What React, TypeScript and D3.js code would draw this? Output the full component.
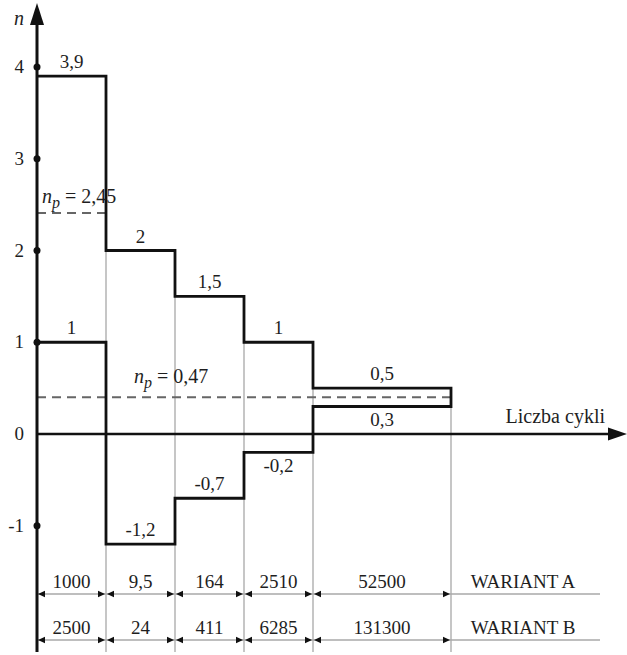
import React from "react";
import * as d3 from "d3";

const segUnits = [1, 1, 1, 1, 2];
const upperSeries = [3.9, 2, 1.5, 1, 0.5];
const upperLabels = ["3,9", "2", "1,5", "1", "0,5"];
const lowerSeries = [1, -1.2, -0.7, -0.2, 0.3];
const lowerLabels = ["1", "-1,2", "-0,7", "-0,2", "0,3"];
const lowerLabelSide = ["above", "above", "above", "below", "below"];
const variantA = ["1000", "9,5", "164", "2510", "52500"];
const variantB = ["2500", "24", "411", "6285", "131300"];
const variantNames = ["WARIANT A", "WARIANT B"];
const yTicks = [-1, 0, 1, 2, 3, 4];
const npLabels = ["2,45", "0,47"];
const npLinePos = [2.41, 0.4];
const npLineEndSeg = [1, 5];

const W = 627;
const H = 655;
const FONT = "Liberation Serif, DejaVu Serif, serif";
const FS = 19;

export default function App() {
  const total = d3.sum(segUnits);
  const x = d3.scaleLinear().domain([0, total]).range([37, 451]);
  const y = d3.scaleLinear().domain([0, 4]).range([434, 67]);
  const cum = [0, ...d3.cumsum(segUnits)];
  const xb = cum.map((c) => x(c));

  const pts: [number, number][] = [];
  upperSeries.forEach((v, i) => {
    pts.push([xb[i], y(v)]);
    pts.push([xb[i + 1], y(v)]);
  });
  for (let i = lowerSeries.length - 1; i >= 0; i--) {
    pts.push([xb[i + 1], y(lowerSeries[i])]);
    pts.push([xb[i], y(lowerSeries[i])]);
  }
  const line = d3.line();
  const stepPath = line(pts) as string;

  const axisBottom = 652;
  const dimRows = [variantA, variantB];
  const dimY = [594, 640];
  const grey = "#a8a8a8";
  const txt = "#1e1e1e";

  const arrow = (tipX: number, yy: number, dir: number, key: string) => (
    <path
      key={key}
      d={`M${tipX},${yy} L${tipX - dir * 7},${yy - 3.2} L${tipX - dir * 7},${yy + 3.2} Z`}
      fill="#111"
    />
  );

  return (
    <svg
      width={W}
      height={H}
      style={{ position: "absolute", left: 0, top: 0, background: "#fff", fontFamily: FONT }}
    >
      <rect width={W} height={H} fill="#fff" />
      {xb.slice(1).map((bx, i) => (
        <line
          key={"gv" + i}
          x1={bx}
          x2={bx}
          y1={y(upperSeries[i])}
          y2={axisBottom}
          stroke={grey}
          strokeWidth={1.3}
        />
      ))}
      {dimRows.map((row, r) => (
        <g key={"dim" + r}>
          <line x1={xb[0]} x2={600} y1={dimY[r]} y2={dimY[r]} stroke={grey} strokeWidth={1.6} />
          {row.map((t, i) => (
            <g key={i}>
              {arrow(xb[i] + 1, dimY[r], -1, "l")}
              {arrow(xb[i + 1] - 1, dimY[r], 1, "r")}
              <text
                x={(xb[i] + xb[i + 1]) / 2}
                y={dimY[r] - 6}
                textAnchor="middle"
                fontSize={FS}
                fill={txt}
              >
                {t}
              </text>
            </g>
          ))}
          <text x={523} y={dimY[r] - 6} textAnchor="middle" fontSize={FS} fill={txt}>
            {variantNames[r]}
          </text>
        </g>
      ))}
      {npLinePos.map((v, i) => (
        <line
          key={"np" + i}
          x1={xb[0]}
          x2={xb[npLineEndSeg[i]]}
          y1={y(v)}
          y2={y(v)}
          stroke="#666"
          strokeWidth={2}
          strokeDasharray="9,6"
        />
      ))}
      <line x1={xb[0]} x2={614} y1={y(0)} y2={y(0)} stroke="#111" strokeWidth={2.5} />
      <path d={`M627,${y(0)} L608,${y(0) - 6.5} L608,${y(0) + 6.5} Z`} fill="#111" />
      <text x={605} y={423} textAnchor="end" fontSize={20} fill={txt}>
        Liczba cykli
      </text>
      <path d={stepPath} fill="none" stroke="#111" strokeWidth={2.8} strokeLinejoin="miter" />
      <line x1={xb[0]} x2={xb[0]} y1={20} y2={axisBottom} stroke="#111" strokeWidth={3} />
      <path d={`M${xb[0]},3 L${xb[0] - 7},25 L${xb[0] + 7},25 Z`} fill="#111" />
      <text x={19} y={25} textAnchor="middle" fontSize={20} fontStyle="italic" fill={txt}>
        n
      </text>
      {yTicks.map((t) => (
        <g key={"yt" + t}>
          {t !== 0 && <circle cx={xb[0]} cy={y(t)} r={3.5} fill="#111" />}
          <text x={24} y={y(t) + 6} textAnchor="end" fontSize={FS} fill={txt}>
            {t < 0 ? "-" + Math.abs(t) : String(t)}
          </text>
        </g>
      ))}
      {upperLabels.map((l, i) => (
        <text
          key={"ul" + i}
          x={(xb[i] + xb[i + 1]) / 2}
          y={y(upperSeries[i]) - 8}
          textAnchor="middle"
          fontSize={FS}
          fill={txt}
        >
          {l}
        </text>
      ))}
      {lowerLabels.map((l, i) => (
        <text
          key={"ll" + i}
          x={(xb[i] + xb[i + 1]) / 2}
          y={y(lowerSeries[i]) + (lowerLabelSide[i] === "above" ? -8 : 20)}
          textAnchor="middle"
          fontSize={FS}
          fill={txt}
        >
          {l}
        </text>
      ))}
      {[203, 383].map((ty, i) => (
        <text key={"npl" + i} x={i === 0 ? 42 : 134} y={ty} fontSize={20} fill={txt}>
          <tspan fontStyle="italic">n</tspan>
          <tspan fontStyle="italic" fontSize={16} dy={5}>p</tspan>
          <tspan dy={-5}>{" = " + npLabels[i]}</tspan>
        </text>
      ))}
    </svg>
  );
}
